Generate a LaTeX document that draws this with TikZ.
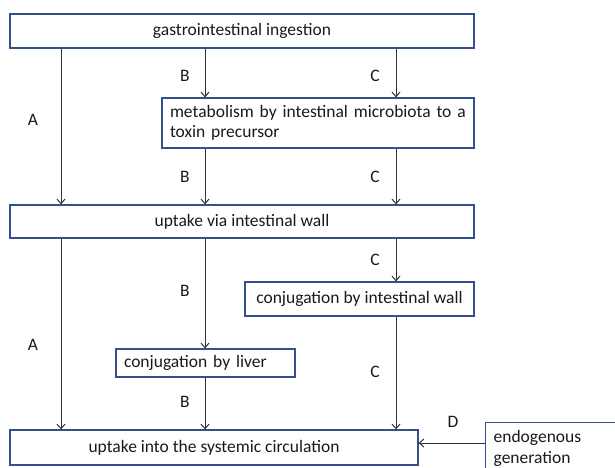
\documentclass[tikz,border=0pt]{standalone}
\usepackage{fontspec}
\setmainfont{Carlito}
\usetikzlibrary{arrows.meta}
\definecolor{boxblue}{HTML}{34508F}
\definecolor{ink}{HTML}{1A1A1A}
\definecolor{linec}{HTML}{333333}
\begin{document}
\begin{tikzpicture}[x=1pt,y=-1pt,
  box/.style={draw=boxblue,line width=1.3pt,inner sep=0pt,text=ink,font=\fontsize{17.5}{20.5}\selectfont},
  lbl/.style={text=ink,font=\fontsize{17.5}{20}\selectfont,inner sep=0pt},
  arr/.style={draw=linec,line width=1pt,-{Straight Barb[length=4.5pt,width=8pt]}}]
\useasboundingbox (0,0) rectangle (615,467);
\clip (0,0) rectangle (615,467);
\fill[white] (0,0) rectangle (615,467);
\node[box,minimum width=464pt,minimum height=34pt] (gi) at (242,31) {gastrointestinal ingestion};
\node[box,minimum width=312pt,minimum height=50pt,text width=296pt,align=left] (met) at (318,123) {metabolism by intestinal microbiota to a\\toxin precursor};
\node[box,minimum width=464pt,minimum height=33pt] (wall) at (242,221.5) {uptake via intestinal wall};
\node[box,minimum width=229pt,minimum height=34pt] (cwall) at (359.5,299) {conjugation by intestinal wall};
\node[box,minimum width=179pt,minimum height=28pt,text width=163pt,align=left] (liver) at (205.5,363) {conjugation by liver};
\node[box,minimum width=408pt,minimum height=35pt] (sys) at (214,447.5) {uptake into the systemic circulation};
\node[box,anchor=north west,minimum width=300pt,minimum height=52pt,text width=284pt,align=left] (endo) at (485,422) {endogenous\\generation};
\coordinate (xA) at (61,0);
\coordinate (xB) at (205,0);
\coordinate (xC) at (396,0);
\coordinate (yD) at (0,443);
\draw[arr] (gi.south -| xA) -- (wall.north -| xA);
\draw[arr] (gi.south -| xB) -- (met.north -| xB);
\draw[arr] (gi.south -| xC) -- (met.north -| xC);
\draw[arr] (met.south -| xB) -- (wall.north -| xB);
\draw[arr] (met.south -| xC) -- (wall.north -| xC);
\draw[arr] (wall.south -| xA) -- (sys.north -| xA);
\draw[arr] (wall.south -| xB) -- (liver.north -| xB);
\draw[arr] (wall.south -| xC) -- (cwall.north -| xC);
\draw[arr] (liver.south -| xB) -- (sys.north -| xB);
\draw[arr] (cwall.south -| xC) -- (sys.north -| xC);
\draw[arr] (endo.west |- yD) -- (sys.east |- yD);
\node[lbl] (lA1) at (33,120) {A};
\node[lbl] (lB1) at (185,76) {B};
\node[lbl] (lC1) at (375,76) {C};
\node[lbl] (lB2) at (185,177) {B};
\node[lbl] (lC2) at (375,177) {C};
\node[lbl] (lC3) at (375,260) {C};
\node[lbl] (lB3) at (185,291) {B};
\node[lbl] (lA2) at (33,345) {A};
\node[lbl] (lB4) at (185,402) {B};
\node[lbl] (lC4) at (375,372) {C};
\node[lbl] (lD) at (453,422) {D};
\end{tikzpicture}
\end{document}
